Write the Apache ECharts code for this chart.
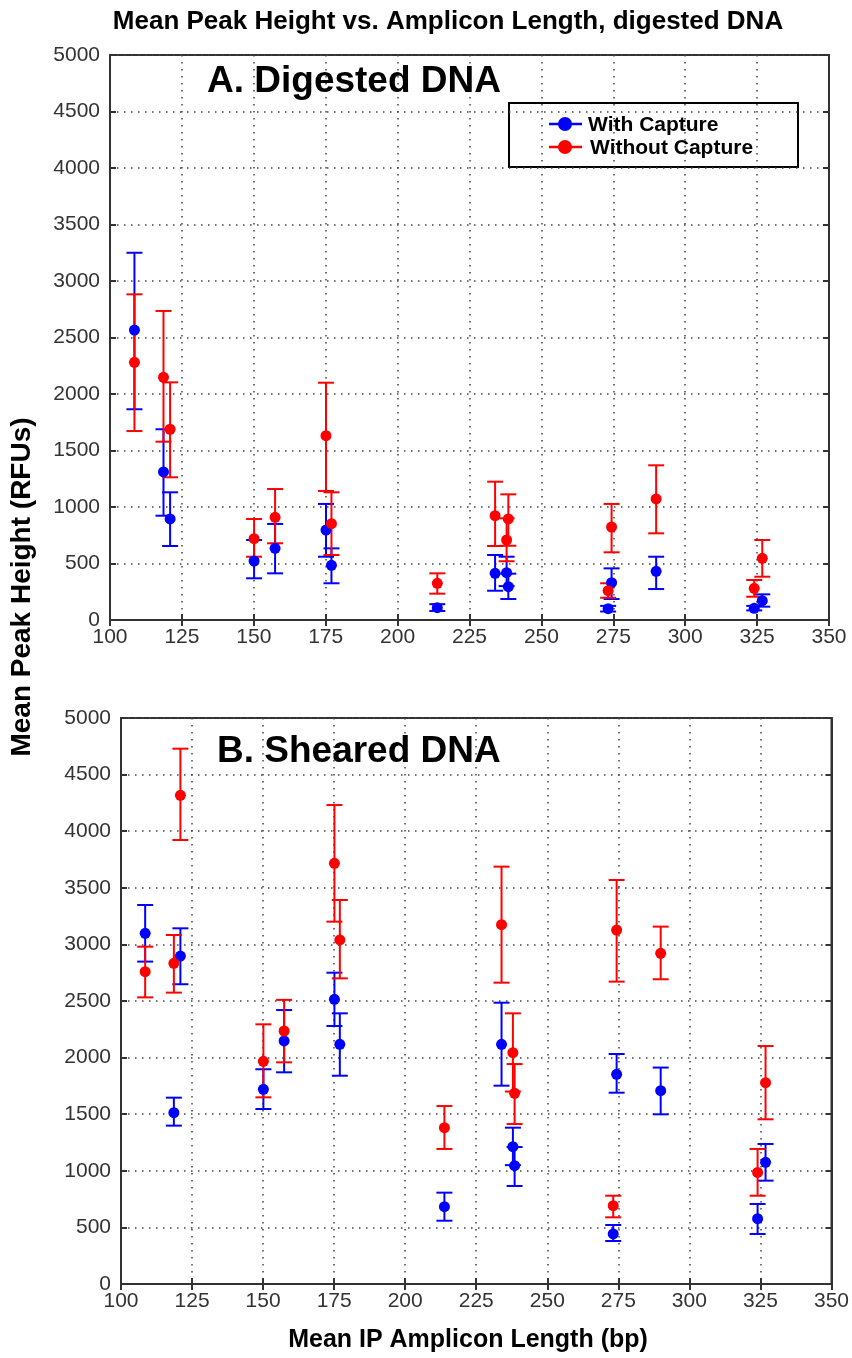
<!DOCTYPE html>
<html>
<head>
<meta charset="utf-8">
<script src="https://cdn.jsdelivr.net/npm/echarts@6/dist/echarts.min.js"></script>
<style>
html,body{margin:0;padding:0;background:#fff;}
#chart{width:852px;height:1358px;}
</style>
</head>
<body>
<div id="chart"></div>
<script>
// Amplicon lengths (bp) — shared x positions for both panels
const lengths = [108.5, 118.6, 120.9, 150.1, 157.4, 175.1, 177.0, 213.8, 233.9, 237.9, 238.5, 273.2, 274.4, 289.9, 324.0, 326.8];

// Panel A: digested DNA, with capture
const aWithMean = [2566, 1310, 894, 522, 634, 796, 484, 109, 413, 419, 295, 100, 330, 431, 103, 171];
const aWithLo   = [1865, 923, 655, 369, 413, 560, 325, 80, 259, 300, 186, 75, 186, 274, 85, 118];
const aWithHi   = [3250, 1688, 1130, 708, 850, 1027, 634, 140, 575, 560, 410, 125, 457, 560, 125, 227];

// Panel A: digested DNA, without capture
const aWithoutMean = [2280, 2148, 1688, 720, 909, 1631, 852, 325, 923, 708, 894, 259, 823, 1071, 280, 546];
const aWithoutLo   = [1672, 1578, 1263, 560, 679, 1142, 575, 233, 655, 520, 657, 197, 599, 767, 206, 383];
const aWithoutHi   = [2882, 2735, 2103, 894, 1159, 2100, 1130, 413, 1224, 900, 1112, 325, 1027, 1369, 354, 708];

// Panel B: sheared DNA, with capture
const bWithMean = [3098, 1513, 2897, 1720, 2147, 2515, 2117, 683, 2117, 1213, 1045, 442, 1852, 1708, 577, 1075];
const bWithLo   = [2848, 1399, 2648, 1546, 1870, 2279, 1840, 559, 1752, 1050, 866, 380, 1690, 1499, 442, 913];
const bWithHi   = [3348, 1646, 3142, 1897, 2420, 2750, 2391, 807, 2485, 1381, 1210, 521, 2032, 1912, 707, 1237];

// Panel B: sheared DNA, without capture
const bWithoutMean = [2759, 2833, 4317, 1967, 2235, 3716, 3039, 1381, 3174, 2043, 1685, 692, 3127, 2921, 986, 1778];
const bWithoutLo   = [2532, 2574, 3922, 1649, 1958, 3201, 2700, 1193, 2662, 1700, 1413, 589, 2671, 2692, 780, 1455];
const bWithoutHi   = [2980, 3083, 4729, 2294, 2510, 4231, 3392, 1572, 3687, 2391, 1943, 780, 3569, 3157, 1193, 2102];

// Axis ticks
const xMin = 100, xMax = 350, xStep = 25;
const yMin = 0, yMax = 5000, yStep = 500;

const BLUE = '#0000ff', RED = '#ff0000';
const FONT = 'Liberation Sans, Arial, sans-serif';

function rows(mean, lo, hi) {
  return lengths.map((x, i) => [x, mean[i], lo[i], hi[i]]);
}

function errRender(params, api) {
  const x = api.value(0);
  const lo = api.coord([x, api.value(2)]);
  const hi = api.coord([x, api.value(3)]);
  const w = 8;
  const style = { stroke: api.visual('color'), lineWidth: 2 };
  return {
    type: 'group',
    children: [
      { type: 'line', shape: { x1: lo[0], y1: lo[1], x2: hi[0], y2: hi[1] }, style: style },
      { type: 'line', shape: { x1: lo[0] - w, y1: lo[1], x2: lo[0] + w, y2: lo[1] }, style: style },
      { type: 'line', shape: { x1: hi[0] - w, y1: hi[1], x2: hi[0] + w, y2: hi[1] }, style: style }
    ]
  };
}

const gridLine = { show: true, lineStyle: { color: '#444', width: 1.5, type: [1.5, 5.5] } };
const axisLineStyle = { show: true, lineStyle: { color: '#333', width: 2 } };
const plain = v => String(v);

function xAxisDef(gi, pos, labels) {
  return {
    type: 'value', gridIndex: gi, position: pos, min: xMin, max: xMax, interval: xStep,
    axisLine: axisLineStyle,
    axisTick: { show: true, inside: true, length: 6, lineStyle: { color: '#333', width: 2 } },
    axisLabel: { show: labels, color: '#333', fontSize: 21, fontFamily: FONT, margin: 7, formatter: plain },
    splitLine: labels ? gridLine : { show: false }
  };
}
function yAxisDef(gi, pos, labels) {
  return {
    type: 'value', gridIndex: gi, position: pos, min: yMin, max: yMax, interval: yStep,
    axisLine: axisLineStyle,
    axisTick: { show: true, inside: true, length: 6, lineStyle: { color: '#333', width: 2 } },
    axisLabel: { show: labels, color: '#333', fontSize: 21, fontFamily: FONT, margin: 10, formatter: plain },
    splitLine: labels ? gridLine : { show: false }
  };
}

function errSeries(name, data, color, ai) {
  return {
    name: name, type: 'custom', xAxisIndex: ai, yAxisIndex: ai,
    renderItem: errRender, data: data, itemStyle: { color: color },
    encode: { x: 0, y: [2, 3] }, z: 3
  };
}
function ptSeries(name, data, color, ai) {
  return {
    name: name, type: 'scatter', xAxisIndex: ai, yAxisIndex: ai,
    data: data, symbol: 'circle', symbolSize: 11, itemStyle: { color: color, opacity: 1 },
    encode: { x: 0, y: 1 }, z: 4
  };
}

const chart = echarts.init(document.getElementById('chart'), null, { renderer: 'canvas' });

const option = {
  animation: false,
  backgroundColor: '#fff',
  grid: [
    { left: 110, top: 55, width: 719, height: 565, show: true, borderColor: '#333', borderWidth: 2, containLabel: false },
    { left: 121, top: 718, width: 714, height: 566, show: true, borderColor: '#333', borderWidth: 2, containLabel: false }
  ],
  xAxis: [xAxisDef(0, 'bottom', true), xAxisDef(1, 'bottom', true), xAxisDef(0, 'top', false), xAxisDef(1, 'top', false)],
  yAxis: [yAxisDef(0, 'left', true), yAxisDef(1, 'left', true), yAxisDef(0, 'right', false), yAxisDef(1, 'right', false)],
  series: [
    errSeries('With Capture', rows(aWithMean, aWithLo, aWithHi), BLUE, 0),
    ptSeries('With Capture', rows(aWithMean, aWithLo, aWithHi), BLUE, 0),
    errSeries('Without Capture', rows(aWithoutMean, aWithoutLo, aWithoutHi), RED, 0),
    ptSeries('Without Capture', rows(aWithoutMean, aWithoutLo, aWithoutHi), RED, 0),
    errSeries('With Capture', rows(bWithMean, bWithLo, bWithHi), BLUE, 1),
    ptSeries('With Capture', rows(bWithMean, bWithLo, bWithHi), BLUE, 1),
    errSeries('Without Capture', rows(bWithoutMean, bWithoutLo, bWithoutHi), RED, 1),
    ptSeries('Without Capture', rows(bWithoutMean, bWithoutLo, bWithoutHi), RED, 1)
  ],
  graphic: [
    { type: 'text', x: 448, y: 22, z: 10,
      style: { text: 'Mean Peak Height vs. Amplicon Length, digested DNA', font: 'bold 26px ' + FONT, fill: '#000', align: 'center', verticalAlign: 'middle' } },
    { type: 'text', x: 207, y: 82, z: 10,
      style: { text: 'A. Digested DNA', font: 'bold 37px ' + FONT, fill: '#000', verticalAlign: 'middle' } },
    { type: 'text', x: 217, y: 752, z: 10,
      style: { text: 'B. Sheared DNA', font: 'bold 37px ' + FONT, fill: '#000', verticalAlign: 'middle' } },
    { type: 'text', x: 22, y: 587, rotation: Math.PI / 2, z: 10,
      style: { text: 'Mean Peak Height (RFUs)', font: 'bold 28px ' + FONT, fill: '#000', align: 'center', verticalAlign: 'middle' } },
    { type: 'text', x: 468, y: 1340, z: 10,
      style: { text: 'Mean IP Amplicon Length (bp)', font: 'bold 25px ' + FONT, fill: '#000', align: 'center', verticalAlign: 'middle' } },
    { type: 'group', z: 10, children: [
      { type: 'rect', shape: { x: 509, y: 103, width: 289, height: 64 }, style: { fill: '#fff', stroke: '#000', lineWidth: 2 } },
      { type: 'line', shape: { x1: 549, y1: 124, x2: 582, y2: 124 }, style: { stroke: BLUE, lineWidth: 2.5 } },
      { type: 'circle', shape: { cx: 565, cy: 124, r: 7 }, style: { fill: BLUE } },
      { type: 'text', x: 588, y: 125, style: { text: 'With Capture', font: 'bold 21px ' + FONT, fill: '#000', verticalAlign: 'middle' } },
      { type: 'line', shape: { x1: 549, y1: 147, x2: 582, y2: 147 }, style: { stroke: RED, lineWidth: 2.5 } },
      { type: 'circle', shape: { cx: 565, cy: 147, r: 7 }, style: { fill: RED } },
      { type: 'text', x: 590, y: 148, style: { text: 'Without Capture', font: 'bold 21px ' + FONT, fill: '#000', verticalAlign: 'middle' } }
    ] }
  ]
};
chart.setOption(option);
</script>
</body>
</html>
